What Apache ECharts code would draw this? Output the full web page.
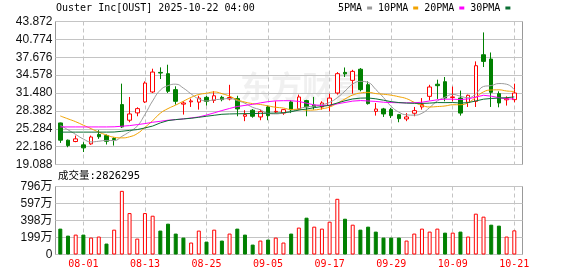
<!DOCTYPE html>
<html>
<head>
<meta charset="utf-8">
<script src="https://cdn.jsdelivr.net/npm/echarts@6/dist/echarts.min.js"></script>
<style>
html,body{margin:0;padding:0;background:#fff;}
#c{width:578px;height:276px;}
</style>
</head>
<body>
<div id="c"></div>
<script>
const titleText = 'Ouster Inc[OUST] 2025-10-22 04:00';
const dates = ['07-29','07-30','07-31','08-01','08-04','08-05','08-06','08-07','08-08','08-11',
  '08-12','08-13','08-14','08-15','08-18','08-19','08-20','08-21','08-22','08-25',
  '08-26','08-27','08-28','08-29','09-02','09-03','09-04','09-05','09-08','09-09',
  '09-10','09-11','09-12','09-15','09-16','09-17','09-18','09-19','09-22','09-23',
  '09-24','09-25','09-26','09-29','09-30','10-01','10-02','10-03','10-06','10-07',
  '10-08','10-09','10-10','10-13','10-14','10-15','10-16','10-17','10-20','10-21'];
const opens = [26.29,23.30,23.07,22.49,22.66,24.30,24.10,23.59,29.47,26.76,
  28.03,29.93,31.66,35.05,34.83,32.06,29.55,29.95,29.90,30.73,
  30.20,30.73,30.45,30.50,27.45,28.50,27.33,29.06,28.20,28.00,
  29.93,28.72,30.16,29.40,29.06,29.30,31.48,35.05,33.67,35.60,
  32.92,28.30,28.72,28.60,27.73,26.98,27.97,29.06,30.90,33.00,
  33.44,30.70,30.60,29.87,30.04,38.11,37.36,31.37,30.30,30.33];
const closes = [23.30,22.37,23.53,21.97,23.85,23.90,23.12,23.41,25.60,27.85,
  28.77,33.21,35.11,34.94,31.77,30.04,29.75,30.10,30.60,30.04,
  31.00,30.33,30.70,28.72,27.74,27.45,28.25,27.56,28.30,28.60,
  28.55,30.79,29.06,29.10,29.75,30.60,34.83,34.80,35.23,32.06,
  29.64,28.70,27.85,27.56,27.04,27.33,28.43,29.47,32.52,32.75,
  30.60,30.80,28.00,31.08,36.21,36.96,31.60,29.75,30.50,31.48];
const lows = [22.83,22.08,22.95,21.25,22.50,23.53,22.55,22.37,25.43,26.41,
  27.45,29.75,31.48,33.90,31.48,29.47,27.74,29.06,28.60,29.30,
  29.75,30.04,30.20,27.45,26.60,27.20,26.76,26.76,28.00,27.70,
  28.00,28.50,27.45,28.60,28.60,28.30,31.20,34.25,31.37,31.77,
  29.47,27.56,27.33,27.15,26.41,26.60,27.45,28.60,30.20,30.45,
  30.04,30.04,27.56,29.06,29.06,35.98,29.06,29.00,29.30,29.87];
const highs = [26.35,23.41,24.10,22.95,24.10,25.03,24.30,23.82,33.10,30.79,
  29.00,33.50,35.69,35.92,36.38,32.64,30.04,30.50,31.00,31.00,
  31.80,31.00,32.90,31.00,28.50,28.70,28.60,29.30,30.04,28.70,
  30.20,31.20,30.30,30.80,30.04,31.37,35.10,35.90,35.50,35.80,
  33.50,29.75,28.90,28.90,27.85,28.00,29.06,30.60,32.90,33.79,
  34.25,32.60,31.90,31.20,36.96,41.98,38.50,31.77,30.90,33.10];
const volumes = [3030000,2210000,2330000,2330000,1980000,2100000,1280000,2910000,7450000,4850000,
  1860000,4850000,4540000,2800000,3610000,2450000,1980000,1400000,2800000,1510000,
  2910000,1630000,2450000,3030000,2330000,1160000,1630000,1750000,1980000,1400000,
  2450000,3150000,4310000,3260000,3030000,3840000,6520000,4190000,3490000,2910000,
  3260000,2680000,1980000,1980000,1980000,1630000,2450000,3030000,2680000,3030000,
  2560000,2560000,2680000,2100000,4780000,4430000,3490000,3380000,2100000,2826295];
const volUp = [0,0,1,0,1,1,0,1,1,1, 1,1,1,0,0,0,0,1,1,0, 1,0,1,0,0,0,1,0,1,1,
  0,1,0,1,1,1,1,0,1,0, 0,0,0,0,0,1,1,1,1,1, 0,1,0,1,1,1,0,0,1,1];
const ma5 = [25.90,25.10,24.30,23.50,23.00,23.12,23.26,23.23,23.96,24.77,
  25.75,27.77,30.11,31.98,32.76,33.01,32.32,31.32,30.45,30.11,
  30.30,30.41,30.53,30.16,29.70,28.99,28.57,27.94,27.86,28.03,
  28.25,28.76,29.06,29.22,29.45,29.86,30.67,31.82,33.04,33.50,
  33.31,32.09,30.70,29.16,28.16,27.70,27.64,27.97,28.96,30.10,
  30.75,31.23,30.93,30.65,31.34,32.61,32.77,33.12,33.00,32.06];
const ma10 = [27.50,27.00,26.50,25.90,25.30,24.70,24.20,23.80,23.70,23.89,
  24.44,25.52,26.68,27.98,28.78,29.39,30.06,30.72,31.22,31.43,
  31.66,31.37,30.93,30.31,29.90,29.64,29.49,29.24,29.01,28.87,
  28.62,28.67,28.50,28.54,28.74,29.06,29.71,30.44,31.13,31.48,
  31.59,31.38,31.26,31.10,30.83,30.50,29.86,29.33,29.06,29.13,
  29.23,29.44,29.45,29.80,30.72,31.68,32.00,32.03,31.83,31.75];
const ma20 = [25.60,25.60,25.60,25.60,25.60,25.60,25.60,25.62,25.72,25.83,
  26.00,26.18,26.41,26.58,26.76,26.87,26.99,27.16,27.33,27.66,
  28.04,28.44,28.80,29.14,29.33,29.51,29.77,29.98,30.11,30.15,
  30.14,30.02,29.71,29.42,29.32,29.35,29.60,29.84,30.07,30.17,
  30.10,30.02,29.88,29.82,29.79,29.78,29.79,29.88,30.10,30.30,
  30.41,30.41,30.35,30.45,30.78,31.09,30.93,30.68,30.44,30.46];
const ma30 = [24.70,24.70,24.70,24.70,24.70,24.70,24.70,24.72,24.85,25.00,
  25.14,25.43,25.75,26.30,26.70,26.87,26.99,27.10,27.27,27.45,
  27.62,27.79,27.85,27.88,27.90,27.92,27.95,27.98,28.00,28.06,
  28.24,28.52,28.70,28.94,29.14,29.36,29.75,30.13,30.45,30.59,
  30.62,30.47,30.23,29.98,29.82,29.73,29.69,29.67,29.73,29.82,
  29.81,29.83,29.74,29.81,30.10,30.41,30.53,30.60,30.67,30.80];
const maNames = ['5PMA','10PMA','20PMA','30PMA'];
const priceMin = 19.088, priceMax = 43.872, priceStep = 3.098;
const volMax = 7960000, volStep = 1990000;
const labelIdx = [3,11,19,27,35,43,51,59];

const RED = '#ff0000', GREEN = '#008000';
const MONO = '"DejaVu Sans Mono", "Liberation Mono", monospace';
const SANS = '"Liberation Sans", Arial, "Noto Sans CJK SC", sans-serif';
const GRIDLINE = '#c4c4c4';

const chart = echarts.init(document.getElementById('c'), null, {renderer: 'canvas'});

const xMin = -0.624, xMax = 60.065;
function xAxisCfg(gridIndex, showLabel) {
  return {
    gridIndex: gridIndex, type: 'value', min: xMin, max: xMax,
    axisLine: {show: false},
    axisTick: {show: false, customValues: labelIdx},
    axisLabel: {
      show: showLabel, customValues: labelIdx,
      formatter: v => dates[Math.round(v)] || '',
      color: RED, fontFamily: MONO, fontSize: 10, margin: 5
    },
    splitLine: {show: true, lineStyle: {color: GRIDLINE, width: 1, type: [4, 3]}}
  };
}

const candleData = dates.map((d, i) => [i, opens[i], closes[i], lows[i], highs[i]]);
const volData = volumes.map((v, i) => ({
  value: [i, v],
  itemStyle: volUp[i]
    ? {color: '#ffffff', borderColor: RED, borderWidth: 1}
    : {color: GREEN, borderColor: GREEN, borderWidth: 1}
}));
const maColors = ['#9b9b9b', '#f2a300', '#ff00ff', '#0a6e33'];
const maSeries = [ma5, ma10, ma20, ma30].map((arr, k) => ({
  name: maNames[k], type: 'line', xAxisIndex: 0, yAxisIndex: 0,
  data: arr.map((v, i) => [i, v]),
  showSymbol: false, symbol: 'none', smooth: k < 2,
  lineStyle: {color: maColors[k], width: 1},
  itemStyle: {color: maColors[k]},
  z: 3
}));

chart.setOption({
  animation: false,
  backgroundColor: '#ffffff',
  legend: {
    data: maNames, left: 338, top: 3, align: 'right', icon: 'rect',
    itemWidth: 5, itemHeight: 3, itemGap: 6, padding: 0,
    textStyle: {color: '#000', fontFamily: MONO, fontSize: 10},
    selectedMode: false
  },
  graphic: [
    {type: 'text', left: 56, top: 3, silent: true,
     style: {text: titleText, fill: '#000', font: '10px ' + MONO}},
    {type: 'text', left: 58, top: 171, silent: true,
     style: {text: '成交量:' + volumes[volumes.length - 1], fill: '#000',
             font: '10.5px "DejaVu Sans Mono", "Noto Sans CJK SC", monospace'}},
    {type: 'text', left: 240, top: 71, silent: true, z: -1,
     style: {text: '东方财富', fill: 'rgba(0,0,0,0.06)',
             font: 'bold 31px "Noto Sans CJK SC", sans-serif'}}
  ],
  grid: [
    {left: 55.5, right: 55.5, top: 21.5, height: 143, show: true, borderColor: '#999999', borderWidth: 1},
    {left: 55.5, right: 55.5, top: 186.5, height: 68, show: true, borderColor: '#999999', borderWidth: 1}
  ],
  xAxis: [xAxisCfg(0, false), xAxisCfg(1, true)],
  yAxis: [
    {gridIndex: 0, type: 'value', min: priceMin, max: priceMax, interval: priceStep,
     axisLine: {show: false}, axisTick: {show: false},
     axisLabel: {formatter: v => v.toFixed(3), color: '#111', fontFamily: SANS, fontSize: 12, margin: 3},
     splitLine: {lineStyle: {color: GRIDLINE, width: 1}}},
    {gridIndex: 1, type: 'value', min: 0, max: volMax, interval: volStep,
     axisLine: {show: false}, axisTick: {show: false},
     axisLabel: {formatter: v => v === 0 ? '0' : Math.round(v / 10000) + '万',
                 color: '#111', fontFamily: SANS, fontSize: 12, margin: 3},
     splitLine: {lineStyle: {color: GRIDLINE, width: 1}}}
  ],
  series: [
    {type: 'candlestick', name: 'K', xAxisIndex: 0, yAxisIndex: 0, data: candleData,
     barWidth: 4, z: 2,
     itemStyle: {color: '#ffffff', color0: GREEN, borderColor: RED, borderColor0: GREEN, borderWidth: 1}},
    ...maSeries,
    {type: 'bar', name: 'VOL', xAxisIndex: 1, yAxisIndex: 1, data: volData, barWidth: 4, z: 2}
  ]
});
</script>
</body>
</html>
